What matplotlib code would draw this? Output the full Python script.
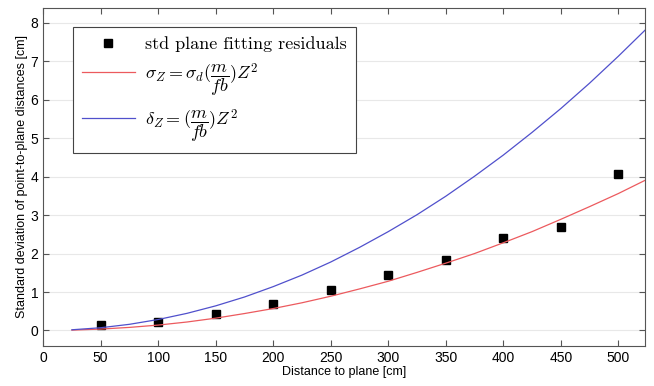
import numpy as np
import matplotlib.pyplot as plt

# measured residuals
dist = [50, 100, 150, 200, 250, 300, 350, 400, 450, 500]
resid = [0.13, 0.22, 0.43, 0.68, 1.05, 1.43, 1.83, 2.40, 2.68, 4.07]

# model curves
z_curve = [25, 50, 75, 100, 125, 150, 175, 200, 225, 250, 275, 300, 325,
           350, 375, 400, 425, 450, 475, 500, 525]
sigma_z = [0.009, 0.036, 0.08, 0.14, 0.22, 0.32, 0.44, 0.57, 0.72, 0.89, 1.08,
           1.28, 1.51, 1.75, 2.00, 2.28, 2.57, 2.89, 3.22, 3.56, 3.93]
delta_z = [0.018, 0.071, 0.16, 0.285, 0.445, 0.64, 0.87, 1.14, 1.44, 1.78, 2.16,
           2.57, 3.01, 3.49, 4.01, 4.56, 5.15, 5.77, 6.43, 7.13, 7.86]

plt.rcParams['font.family'] = 'Liberation Sans'
plt.rcParams['mathtext.fontset'] = 'cm'

fig = plt.figure(figsize=(6.54, 3.86), dpi=100)
ax = fig.add_axes([0.066, 0.104, 0.92, 0.875])

ax.plot(dist, resid, 's', color='black', markersize=6,
        label='std plane fitting residuals')
ax.plot(z_curve, sigma_z, color='#ec5a5e', lw=0.9,
        label=r'$\sigma_Z = \sigma_d(\dfrac{m}{fb})Z^2$')
ax.plot(z_curve, delta_z, color='#5050cc', lw=0.9,
        label=r'$\delta_Z = (\dfrac{m}{fb})Z^2$')

ax.set_xlim(0, 523)
ax.set_ylim(-0.4, 8.38)
ax.set_xticks(range(0, 501, 50))
ax.set_yticks(range(0, 9))
ax.tick_params(labelsize=10, direction='in', top=True, right=True, length=4,
               color='#555555')
ax.grid(axis='y', color='#e8e8e8', lw=0.8)
for s in ax.spines.values():
    s.set_color('#555555')

ax.set_xlabel('Distance to plane [cm]', fontsize=9, labelpad=1)
ax.set_ylabel('Standard deviation of point-to-plane distances [cm]', fontsize=9, labelpad=2)

leg = ax.legend(loc='upper left', bbox_to_anchor=(0.05, 0.944),
                prop={'family': 'cmr10', 'size': 13},
                labelspacing=0.5, handlelength=2.9, borderaxespad=0,
                fancybox=False, edgecolor='#444444', framealpha=1,
                borderpad=0.5, handletextpad=0.6)
leg.get_frame().set_linewidth(0.8)

fig.savefig('out.png', dpi=100)
